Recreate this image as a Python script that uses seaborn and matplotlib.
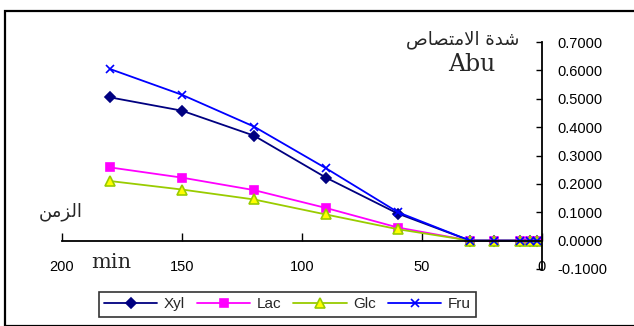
import matplotlib
matplotlib.use("Agg")
import matplotlib.pyplot as plt
from matplotlib.patches import Rectangle
from matplotlib.ticker import FormatStrFormatter
import seaborn as sns
import pandas as pd

# ---- data ----
time_min = [180, 150, 120, 90, 60, 30, 20, 9, 5, 2]
xyl = [0.505, 0.458, 0.370, 0.222, 0.095, 0.0, 0.0, 0.0, 0.0, 0.0]
lac = [0.258, 0.222, 0.178, 0.115, 0.046, 0.0, 0.0, 0.0, 0.0, 0.0]
glc = [0.210, 0.180, 0.145, 0.092, 0.040, 0.0, 0.0, 0.0, 0.0, 0.0]
fru = [0.605, 0.514, 0.402, 0.255, 0.100, 0.0, 0.0, 0.0, 0.0, 0.0]
series_names = ["Xyl", "Lac", "Glc", "Fru"]
x_ticks = [200, 150, 100, 50, 0]
y_ticks = [-0.1, 0.0, 0.1, 0.2, 0.3, 0.4, 0.5, 0.6, 0.7]

# Arabic labels (presentation forms, visual order)
y_title_ar = "\uFEB9\uFE8E\uFEBC\uFE98\uFEE3\uFEFB\uFE8D \uFE93\uFEAA\uFEB7"  # شدة الامتصاص
x_title_ar = "\uFEE6\uFEE3\uFEB0\uFEDF\uFE8D"  # الزمن

sns.set_theme(style="white")
plt.rcParams["font.family"] = ["Liberation Sans", "DejaVu Sans"]
plt.rcParams["axes.unicode_minus"] = False

rows = []
for name, vals in zip(series_names, [xyl, lac, glc, fru]):
    for t, v in zip(time_min, vals):
        rows.append({"t": t, "v": v, "s": name})
df = pd.DataFrame(rows)

fig = plt.figure(figsize=(6.34, 3.26), dpi=100)
ax = fig.add_axes([0.0978, 0.175, 0.757, 0.696])

styles = {
    "Xyl": dict(color="#000080", marker="D", markersize=5, markerfacecolor="#000080", markeredgecolor="#000080"),
    "Lac": dict(color="#FF00FF", marker="s", markersize=5.5, markerfacecolor="#FF00FF", markeredgecolor="#FF00FF"),
    "Glc": dict(color="#99CC00", marker="^", markersize=6.5, markerfacecolor="#FFFF00", markeredgecolor="#99CC00"),
    "Fru": dict(color="#0000FF", marker="x", markersize=5.5, markerfacecolor="#0000FF", markeredgecolor="#0000FF"),
}
for name in series_names:
    st = styles[name]
    sns.lineplot(data=df[df["s"] == name], x="t", y="v", ax=ax, label=name,
                 linewidth=1.3, color=st["color"], marker=st["marker"],
                 markersize=st["markersize"], markerfacecolor=st["markerfacecolor"],
                 markeredgecolor=st["markeredgecolor"], markeredgewidth=1.2)

ax.set_xlim(200, 0)
ax.set_ylim(-0.1, 0.7)
ax.set_xticks(x_ticks)
ax.set_yticks(y_ticks)
ax.yaxis.set_major_formatter(FormatStrFormatter("%.4f"))
ax.set_xlabel("")
ax.set_ylabel("")

ax.spines["left"].set_visible(False)
ax.spines["top"].set_visible(False)
ax.spines["right"].set_position(("data", 0))
ax.spines["bottom"].set_position(("data", 0))
for sp in ["right", "bottom"]:
    ax.spines[sp].set_color("black")
    ax.spines[sp].set_linewidth(1.3)
ax.yaxis.tick_right()
ax.tick_params(axis="y", direction="in", length=4, width=1, pad=11, labelsize=10.5, colors="black", right=True, left=False)
ax.tick_params(axis="x", direction="in", length=6, width=1, pad=14, labelsize=10.5, colors="black", bottom=True)

fig.text(0.730, 0.877, y_title_ar, ha="center", va="center", fontsize=13, family=["DejaVu Sans"])
fig.text(0.744, 0.803, "Abu", ha="center", va="center", fontsize=17, family=["DejaVu Serif"])
fig.text(0.096, 0.350, x_title_ar, ha="center", va="center", fontsize=13, family=["DejaVu Sans"])
fig.text(0.175, 0.196, "min", ha="center", va="center", fontsize=15, family=["DejaVu Serif"])

leg = ax.legend(loc="center", bbox_to_anchor=(0.453, 0.066), bbox_transform=fig.transFigure,
                ncol=4, frameon=True, fancybox=False, edgecolor="black", fontsize=11,
                handlelength=3.5, columnspacing=0.8, handletextpad=0.4, borderpad=0.35)
leg.get_frame().set_linewidth(1.2)

fig.patches.append(Rectangle((0.008, 0.0), 1.1, 0.966, transform=fig.transFigure,
                             fill=False, edgecolor="black", linewidth=1.6))

fig.savefig("out.png", dpi=100)
